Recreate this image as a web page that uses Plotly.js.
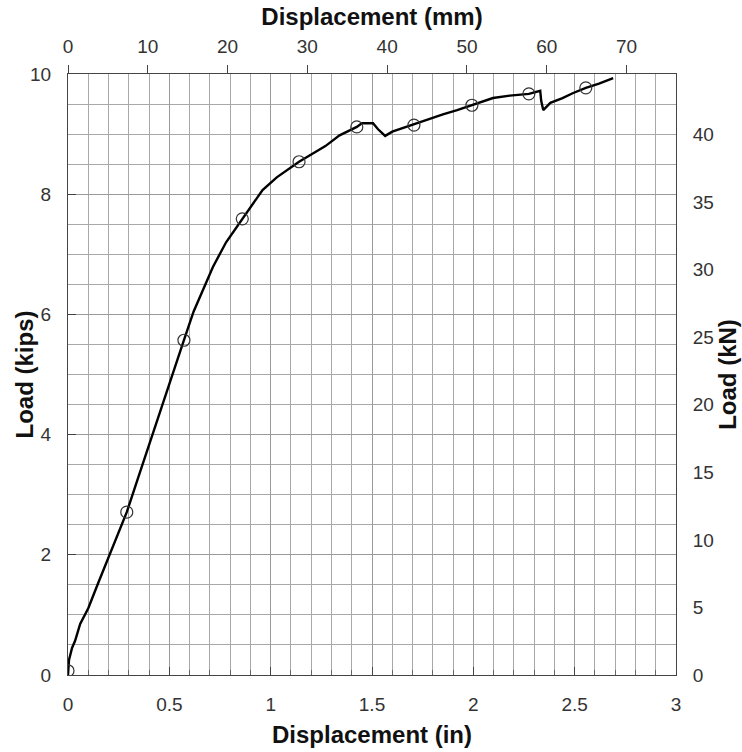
<!DOCTYPE html>
<html>
<head>
<meta charset="utf-8">
<script src="https://cdn.plot.ly/plotly-3.0.1.min.js"></script>
<style>html,body{margin:0;padding:0;background:#fff;}#chart{width:742px;height:752px;}</style>
</head>
<body>
<div id="chart"></div>
<script>
// Load-displacement curve (displacement in inches, load in kips)
const dispIn = [0, 0.005, 0.02, 0.035, 0.06, 0.10, 0.15, 0.21, 0.25, 0.29, 0.35, 0.405, 0.44, 0.50, 0.572, 0.62, 0.67, 0.715, 0.78, 0.86, 0.91, 0.96, 1.03, 1.09, 1.14, 1.20, 1.27, 1.34, 1.39, 1.425, 1.45, 1.505, 1.53, 1.565, 1.60, 1.65, 1.707, 1.78, 1.85, 1.92, 1.993, 2.05, 2.097, 2.18, 2.274, 2.33, 2.335, 2.345, 2.38, 2.44, 2.49, 2.555, 2.62, 2.69];
const loadKips = [0, 0.25, 0.45, 0.57, 0.85, 1.11, 1.54, 2.04, 2.37, 2.71, 3.32, 3.88, 4.24, 4.87, 5.57, 6.05, 6.45, 6.79, 7.20, 7.59, 7.83, 8.07, 8.28, 8.43, 8.54, 8.66, 8.80, 8.98, 9.06, 9.12, 9.18, 9.18, 9.08, 8.97, 9.04, 9.10, 9.17, 9.25, 9.33, 9.40, 9.48, 9.54, 9.60, 9.64, 9.67, 9.72, 9.55, 9.40, 9.52, 9.60, 9.68, 9.77, 9.84, 9.93];
// Circle markers on the curve
const markDispIn = [0, 0.29, 0.572, 0.86, 1.14, 1.425, 1.707, 1.993, 2.274, 2.555];
const markLoadKips = [0.07, 2.71, 5.57, 7.59, 8.54, 9.12, 9.15, 9.48, 9.67, 9.77];
// Axis ticks
const inTicks = [0, 0.5, 1, 1.5, 2, 2.5, 3];
const inTickText = ['0', '0.5', '1', '1.5', '2', '2.5', '3'];
const mmTicks = [0, 10, 20, 30, 40, 50, 60, 70];
const kipsTicks = [0, 2, 4, 6, 8, 10];
const kNTicks = [0, 5, 10, 15, 20, 25, 30, 35, 40];

const tickFont = {family: 'Liberation Sans, Arial, sans-serif', size: 19, color: '#333'};
const titleFont = {family: 'Liberation Sans, Arial, sans-serif', size: 24, color: '#111', weight: 'bold'};

const traces = [
  {x: dispIn, y: loadKips, type: 'scatter', mode: 'lines', line: {color: '#000', width: 2.4}, hoverinfo: 'skip', showlegend: false},
  {x: markDispIn, y: markLoadKips, type: 'scatter', mode: 'markers', marker: {symbol: 'circle-open', size: 12, color: '#333', line: {width: 1.2}}, showlegend: false},
  {x: [0, 76.2], y: [0, 44.48], xaxis: 'x2', yaxis: 'y2', type: 'scatter', mode: 'markers', marker: {opacity: 0}, hoverinfo: 'skip', showlegend: false}
];

const layout = {
  width: 742, height: 752,
  margin: {l: 68, r: 66, t: 74, b: 77},
  paper_bgcolor: '#fff', plot_bgcolor: '#fff',
  showlegend: false,
  xaxis: {
    range: [0, 3], tickvals: inTicks, ticktext: inTickText, tickfont: tickFont,
    ticks: 'inside', ticklen: 8, tickcolor: '#444', ticklabelstandoff: 12,
    showgrid: true, gridcolor: '#9a9a9a', gridwidth: 1,
    minor: {dtick: 0.1, showgrid: true, gridcolor: '#a8a8a8', gridwidth: 1, ticks: 'inside', ticklen: 5, tickcolor: '#666'},
    showline: true, linecolor: '#444', linewidth: 1, mirror: false, zeroline: false, automargin: false,
    title: {text: 'Displacement (in)', font: titleFont, standoff: 12}
  },
  yaxis: {
    range: [0, 10], tickvals: kipsTicks, tickfont: tickFont,
    ticks: 'inside', ticklen: 8, tickcolor: '#444', ticklabelstandoff: 12,
    showgrid: true, gridcolor: '#9a9a9a', gridwidth: 1,
    minor: {dtick: 0.5, showgrid: true, gridcolor: '#a8a8a8', gridwidth: 1},
    showline: true, linecolor: '#444', linewidth: 1, zeroline: false, automargin: false
  },
  xaxis2: {
    overlaying: 'x', side: 'top', anchor: 'y', range: [0, 76.2], tickvals: mmTicks, tickfont: tickFont,
    ticks: 'outside', ticklen: 8, tickcolor: '#444', ticklabelstandoff: 4,
    showgrid: false, showline: true, linecolor: '#444', linewidth: 1, zeroline: false, automargin: false,
    title: {text: 'Displacement (mm)', font: titleFont, standoff: 4}
  },
  yaxis2: {
    overlaying: 'y', side: 'right', anchor: 'x', range: [0, 44.48], tickvals: kNTicks, tickfont: tickFont,
    ticks: 'outside', ticklen: 0, tickcolor: '#444', ticklabelstandoff: 12,
    showgrid: false, showline: true, linecolor: '#444', linewidth: 1, zeroline: false, automargin: false,
    title: {text: 'Load (kN)', font: titleFont, standoff: 2}
  },
  annotations: [
    {text: 'Load (kips)', font: titleFont, textangle: -90, xref: 'paper', yref: 'paper', x: 0, y: 0.5,
     xanchor: 'center', yanchor: 'middle', xshift: -44, showarrow: false}
  ]
};

Plotly.newPlot('chart', traces, layout, {displayModeBar: false, staticPlot: true});
</script>
</body>
</html>
